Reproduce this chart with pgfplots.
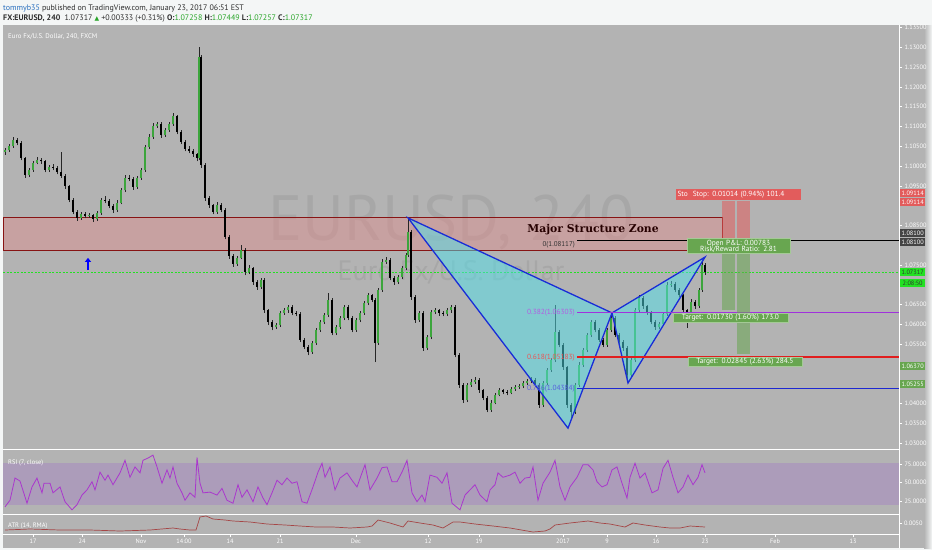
\documentclass[border=0pt]{standalone}
\usepackage{fontspec}
\setmainfont{PT Sans}
\newfontfamily\djv{DejaVu Sans}
\newfontfamily\zonefont{DejaVu Serif}
\usepackage{pgfplots}
\usepackage{pgfplotstable}
\pgfplotsset{compat=1.18}
\usetikzlibrary{arrows.meta}

\definecolor{pagebg}{RGB}{244,246,246}
\definecolor{bgpane}{RGB}{179,179,179}
\definecolor{candlegreen}{RGB}{60,165,60}
\definecolor{zonefill}{RGB}{225,140,140}
\definecolor{zoneline}{RGB}{135,20,20}
\definecolor{patfill}{RGB}{80,225,235}
\definecolor{patline}{RGB}{25,45,215}
\definecolor{fibpurple}{RGB}{160,50,220}
\definecolor{fibred}{RGB}{225,30,30}
\definecolor{fibblue}{RGB}{30,40,210}
\definecolor{rsiline}{RGB}{170,55,205}
\definecolor{rsiband}{RGB}{172,156,186}
\definecolor{atrline}{RGB}{165,70,70}
\definecolor{tagred}{RGB}{226,92,92}
\definecolor{taggreen}{RGB}{104,166,80}
\definecolor{taglime}{RGB}{35,225,35}
\definecolor{tagdark}{RGB}{68,68,68}
\definecolor{hdrblue}{RGB}{40,110,190}
\definecolor{hdrgreen}{RGB}{40,165,40}
\definecolor{hdrtext}{RGB}{45,45,45}
\definecolor{wmark}{RGB}{167,167,167}

\newcommand\tickfont{\fontsize{6.3}{7}\selectfont}
\newcommand\boxfont{\fontsize{7.4}{8}\selectfont}

% 4h candles: x (chart column), open, high, low, close
\pgfplotstableread{
x o h l c
5 1.1036 1.1046 1.1028 1.1040
9 1.1040 1.1056 1.1036 1.1050
13 1.1050 1.1072 1.1046 1.1066
17 1.1066 1.1070 1.1052 1.1058
21 1.1058 1.1062 1.1014 1.1020
25 1.1020 1.1024 1.0970 1.0977
29 1.0977 1.0995 1.0972 1.0990
33 1.0990 1.1013 1.0986 1.1008
37 1.1008 1.1022 1.1004 1.1015
41 1.1015 1.1020 1.1006 1.1012
45 1.1012 1.1016 1.0984 1.0990
49 1.0990 1.1003 1.0985 1.0997
53 1.0997 1.1004 1.0989 1.0995
57 1.0995 1.0999 1.0979 1.0985
61 1.0985 1.1035 1.0970 1.0975
65 1.0975 1.0980 1.0943 1.0949
69 1.0949 1.0953 1.0908 1.0914
73 1.0914 1.0918 1.0878 1.0884
77 1.0884 1.0889 1.0862 1.0869
81 1.0869 1.0885 1.0864 1.0879
85 1.0879 1.0884 1.0868 1.0874
89 1.0874 1.0882 1.0869 1.0876
93 1.0876 1.0880 1.0858 1.0866
97 1.0866 1.0887 1.0861 1.0881
101 1.0881 1.0920 1.0877 1.0914
105 1.0914 1.0925 1.0906 1.0912
109 1.0912 1.0916 1.0893 1.0899
113 1.0899 1.0903 1.0882 1.0889
117 1.0889 1.0913 1.0885 1.0907
121 1.0907 1.0945 1.0903 1.0939
125 1.0939 1.0977 1.0934 1.0970
129 1.0970 1.0978 1.0962 1.0968
133 1.0968 1.0972 1.0940 1.0947
137 1.0947 1.0976 1.0943 1.0970
141 1.0970 1.0996 1.0965 1.0990
145 1.0990 1.1054 1.0986 1.1048
149 1.1048 1.1080 1.1043 1.1073
153 1.1073 1.1108 1.1068 1.1101
157 1.1101 1.1112 1.1096 1.1106
161 1.1106 1.1110 1.1071 1.1078
165 1.1078 1.1097 1.1074 1.1091
169 1.1091 1.1112 1.1087 1.1106
173 1.1106 1.1134 1.1102 1.1126
177 1.1126 1.1130 1.1080 1.1086
181 1.1086 1.1090 1.1055 1.1061
185 1.1061 1.1066 1.1037 1.1043
189 1.1043 1.1050 1.1032 1.1038
193 1.1038 1.1042 1.1024 1.1030
197 1.1030 1.1034 1.1012 1.1020
199 1.1020 1.1300 1.1015 1.1275
201 1.1275 1.1280 1.0995 1.1003
205 1.1003 1.1008 1.0912 1.0919
209 1.0919 1.0925 1.0895 1.0901
213 1.0901 1.0905 1.0878 1.0884
217 1.0884 1.0908 1.0880 1.0901
221 1.0901 1.0906 1.0883 1.0889
225 1.0889 1.0893 1.0815 1.0821
229 1.0821 1.0826 1.0766 1.0773
233 1.0773 1.0778 1.0745 1.0753
237 1.0753 1.0772 1.0748 1.0768
241 1.0768 1.0800 1.0764 1.0788
245 1.0788 1.0792 1.0724 1.0732
249 1.0732 1.0750 1.0727 1.0742
253 1.0742 1.0746 1.0700 1.0707
257 1.0707 1.0712 1.0688 1.0694
261 1.0694 1.0718 1.0690 1.0712
264 1.0712 1.0716 1.0630 1.0636
268 1.0636 1.0640 1.0598 1.0606
272 1.0606 1.0612 1.0585 1.0593
276 1.0593 1.0604 1.0588 1.0598
280 1.0598 1.0635 1.0594 1.0629
284 1.0629 1.0642 1.0624 1.0636
288 1.0636 1.0650 1.0630 1.0644
292 1.0644 1.0648 1.0623 1.0629
296 1.0629 1.0634 1.0620 1.0627
300 1.0627 1.0631 1.0555 1.0561
304 1.0561 1.0566 1.0537 1.0543
308 1.0543 1.0548 1.0522 1.0530
312 1.0530 1.0559 1.0526 1.0553
316 1.0553 1.0592 1.0548 1.0586
320 1.0586 1.0612 1.0581 1.0606
324 1.0606 1.0630 1.0601 1.0624
328 1.0624 1.0680 1.0619 1.0662
332 1.0662 1.0666 1.0572 1.0578
336 1.0578 1.0599 1.0573 1.0593
340 1.0593 1.0622 1.0588 1.0616
344 1.0616 1.0650 1.0611 1.0644
348 1.0644 1.0648 1.0610 1.0616
352 1.0616 1.0620 1.0580 1.0586
356 1.0586 1.0617 1.0581 1.0611
360 1.0611 1.0635 1.0606 1.0629
364 1.0629 1.0660 1.0624 1.0654
368 1.0654 1.0680 1.0649 1.0674
372 1.0674 1.0678 1.0656 1.0662
375 1.0662 1.0666 1.0505 1.0553
378 1.0553 1.0693 1.0548 1.0687
382 1.0687 1.0764 1.0682 1.0758
386 1.0758 1.0770 1.0752 1.0763
390 1.0763 1.0767 1.0711 1.0717
394 1.0717 1.0722 1.0700 1.0707
398 1.0707 1.0726 1.0702 1.0720
402 1.0720 1.0748 1.0715 1.0742
406 1.0742 1.0781 1.0737 1.0775
408 1.0775 1.0869 1.0770 1.0833
411 1.0833 1.0838 1.0662 1.0669
415 1.0669 1.0674 1.0604 1.0611
419 1.0611 1.0635 1.0606 1.0629
423 1.0629 1.0633 1.0534 1.0540
427 1.0540 1.0574 1.0535 1.0568
431 1.0568 1.0637 1.0563 1.0631
435 1.0631 1.0642 1.0626 1.0636
439 1.0636 1.0640 1.0622 1.0629
443 1.0629 1.0634 1.0620 1.0626
447 1.0626 1.0642 1.0621 1.0636
451 1.0636 1.0650 1.0630 1.0644
455 1.0644 1.0648 1.0517 1.0523
459 1.0523 1.0528 1.0440 1.0447
463 1.0447 1.0452 1.0402 1.0409
467 1.0409 1.0453 1.0404 1.0447
471 1.0447 1.0462 1.0442 1.0455
475 1.0455 1.0466 1.0450 1.0460
479 1.0460 1.0464 1.0428 1.0434
483 1.0434 1.0438 1.0408 1.0414
487 1.0414 1.0418 1.0378 1.0384
491 1.0384 1.0408 1.0380 1.0402
495 1.0402 1.0428 1.0398 1.0422
499 1.0422 1.0440 1.0418 1.0434
503 1.0434 1.0438 1.0423 1.0429
507 1.0429 1.0435 1.0421 1.0427
511 1.0427 1.0443 1.0423 1.0437
515 1.0437 1.0448 1.0432 1.0442
519 1.0442 1.0450 1.0437 1.0444
523 1.0444 1.0458 1.0439 1.0452
527 1.0452 1.0463 1.0447 1.0457
531 1.0457 1.0466 1.0452 1.0460
535 1.0460 1.0464 1.0441 1.0447
539 1.0447 1.0451 1.0390 1.0397
543 1.0397 1.0458 1.0392 1.0452
547 1.0452 1.0491 1.0447 1.0485
551 1.0485 1.0516 1.0480 1.0510
555 1.0510 1.0649 1.0505 1.0581
559 1.0581 1.0585 1.0542 1.0548
563 1.0548 1.0552 1.0486 1.0492
567 1.0492 1.0496 1.0390 1.0397
571 1.0397 1.0402 1.0359 1.0379
575 1.0379 1.0453 1.0374 1.0447
579 1.0447 1.0504 1.0442 1.0498
583 1.0498 1.0541 1.0493 1.0535
587 1.0535 1.0579 1.0530 1.0573
591 1.0573 1.0612 1.0568 1.0606
595 1.0606 1.0610 1.0580 1.0586
599 1.0586 1.0590 1.0555 1.0561
603 1.0561 1.0565 1.0542 1.0548
607 1.0548 1.0592 1.0543 1.0586
611 1.0586 1.0630 1.0581 1.0616
615 1.0616 1.0620 1.0567 1.0573
619 1.0573 1.0578 1.0550 1.0556
623 1.0556 1.0560 1.0534 1.0540
627 1.0540 1.0545 1.0455 1.0472
631 1.0472 1.0516 1.0467 1.0510
635 1.0510 1.0642 1.0505 1.0636
639 1.0636 1.0673 1.0631 1.0667
643 1.0667 1.0671 1.0640 1.0646
647 1.0646 1.0650 1.0625 1.0631
651 1.0631 1.0635 1.0600 1.0606
655 1.0606 1.0610 1.0587 1.0593
659 1.0593 1.0607 1.0588 1.0601
663 1.0601 1.0632 1.0596 1.0626
667 1.0626 1.0706 1.0621 1.0700
671 1.0700 1.0710 1.0695 1.0702
675 1.0702 1.0706 1.0681 1.0687
679 1.0687 1.0691 1.0668 1.0674
683 1.0674 1.0678 1.0630 1.0636
687 1.0636 1.0640 1.0591 1.0624
691 1.0624 1.0663 1.0619 1.0657
695 1.0657 1.0661 1.0640 1.0646
699 1.0646 1.0693 1.0641 1.0687
702 1.0687 1.0757 1.0682 1.0750
705 1.0750 1.0754 1.0726 1.0732
}\candles

\begin{document}
\begin{tikzpicture}
% page and pane backgrounds
\fill[pagebg] (0,0) rectangle (932pt,-550pt);
\fill[bgpane] (3pt,-25pt) rectangle (924pt,-548pt);
\shade[left color=bgpane, right color=pagebg] (924pt,-25pt) rectangle (932pt,-548pt);

%----------------------------------------------------------- price pane
\begin{axis}[
	at={(3pt,-25pt)}, anchor=north west,
	scale only axis, width=896pt, height=424pt,
	xmin=3, xmax=899, ymin=1.028535, ymax=1.135606,
	clip=false,
	axis line style={draw=none},
	xtick=\empty,
	% levels hidden behind the price tags are left out
	ytick={1.03,1.035,1.04,1.055,1.06,1.065,1.075,1.085,1.095,1.1,1.105,1.11,1.115,1.12,1.125,1.13,1.135},
	ytick pos=right, yticklabel pos=right,
	scaled y ticks=false,
	tick align=outside, major tick length=3pt,
	tick style={white, line width=0.5pt},
	yticklabel style={text=white, font=\tickfont, xshift=-1pt,
		/pgf/number format/.cd, fixed, fixed zerofill, precision=5, assume math mode=true},
	]
	% watermark
	\node[text=wmark, font=\fontsize{64}{64}\selectfont, anchor=base] at (axis cs:451,1.0813) {EURUSD, 240};
	\node[text=wmark, font=\fontsize{28}{28}\selectfont, anchor=base] at (axis cs:451,1.0712) {Euro Fx/U.S. Dollar};

	% major structure zone
	\addplot[fill=zonefill, fill opacity=0.45, draw=zoneline, line width=0.9pt]
		coordinates {(3,1.0788) (3,1.0869) (722,1.0869) (722,1.0788)} -- cycle;

	% current price
	\addplot[taglime, line width=0.8pt, dash pattern=on 2pt off 1.5pt]
		coordinates {(3,1.07317) (899,1.07317)};

	% wicks
	\addplot[draw=none, forget plot, error bars/.cd, y dir=plus, y explicit,
		error mark=none, error bar style={draw=black!85, line width=0.6pt}]
		table[x=x, y=l, y error expr=\thisrow{h}-\thisrow{l}] {\candles};
	% down bodies
	\addplot[draw=none, forget plot, error bars/.cd, y dir=plus, y explicit,
		error mark=none, error bar style={draw=black, line width=2.6pt}]
		table[x=x, y=c, y error expr={max(\thisrow{o}-\thisrow{c},0)}] {\candles};
	% up bodies
	\addplot[draw=none, forget plot, error bars/.cd, y dir=plus, y explicit,
		error mark=none, error bar style={draw=black!80, line width=2.8pt}]
		table[x=x, y=o, y error expr={max(\thisrow{c}-\thisrow{o},0)}] {\candles};
	\addplot[draw=none, forget plot, error bars/.cd, y dir=plus, y explicit,
		error mark=none, error bar style={draw=candlegreen, line width=1.7pt}]
		table[x=x, y=o, y error expr={max(\thisrow{c}-\thisrow{o},0)}] {\candles};

	% harmonic pattern X-A-B and B-C-D
	\addplot[fill=patfill, fill opacity=0.5, draw=patline, line width=1.3pt]
		coordinates {(408,1.0869) (568,1.0338) (612,1.0629)} -- cycle;
	\addplot[fill=patfill, fill opacity=0.5, draw=patline, line width=1.3pt]
		coordinates {(612,1.0629) (628,1.0452) (705,1.0770)} -- cycle;

	% fibonacci levels
	\addplot[black, line width=1.6pt] coordinates {(577,1.08117) (899,1.08117)};
	\addplot[fibpurple, line width=1.8pt] coordinates {(577,1.06303) (899,1.06303)};
	\addplot[fibred, line width=1.8pt] coordinates {(577,1.05183) (899,1.05183)};
	\addplot[fibblue, line width=1.8pt] coordinates {(577,1.04384) (899,1.04384)};

	% long position tools
	\addplot[fill=tagred, fill opacity=0.55, draw=none]
		coordinates {(722,1.0810) (722,1.09114) (735,1.09114) (735,1.0810)} -- cycle;
	\addplot[fill=tagred, fill opacity=0.55, draw=none]
		coordinates {(737,1.0810) (737,1.09114) (750,1.09114) (750,1.0810)} -- cycle;
	\addplot[fill=taggreen, fill opacity=0.55, draw=none]
		coordinates {(722,1.0810) (722,1.0637) (735,1.0637) (735,1.0810)} -- cycle;
	\addplot[fill=taggreen, fill opacity=0.55, draw=none]
		coordinates {(737,1.0810) (737,1.05255) (750,1.05255) (750,1.0810)} -- cycle;

	% arrow mark under the zone
	\addplot[blue, line width=1.5pt, -{Triangle[width=6pt,length=4pt]}]
		coordinates {(88,1.0737) (88,1.0768)};
\end{axis}

%----------------------------------------------------------- RSI pane
\begin{axis}[
	at={(3pt,-450pt)}, anchor=north west,
	scale only axis, width=896pt, height=64pt,
	xmin=3, xmax=899, ymin=7.4, ymax=93.9,
	clip=false,
	axis line style={draw=none},
	xtick=\empty,
	ytick={25,50,75},
	ytick pos=right, yticklabel pos=right,
	tick align=outside, major tick length=3pt,
	tick style={white, line width=0.5pt},
	yticklabel style={text=white, font=\tickfont, xshift=-1pt,
		/pgf/number format/.cd, fixed, fixed zerofill, precision=4, assume math mode=true},
	]
	\addplot[fill=rsiband, draw=none] coordinates {(3,20) (3,77) (899,77) (899,20)} -- cycle;
	\addplot[rsiline, line width=0.8pt] coordinates {
		(5,17) (10,26) (15,56) (20,52) (27,22) (32,44) (37,56) (42,36) (44,49) (50,49)
		(53,36) (60,44) (65,24) (72,13) (77,20) (82,33) (87,40) (92,51) (95,40) (100,64)
		(105,53) (108,60) (113,47) (120,63) (125,80) (130,57) (135,71) (140,63) (143,80) (148,83)
		(153,87) (157,71) (162,49) (167,67) (170,56) (173,71) (177,49) (182,36) (185,26) (190,36)
		(195,30) (197,84) (200,49) (203,36) (210,37) (217,33) (222,42) (227,26) (233,22) (238,47)
		(242,30) (247,40) (253,24) (258,44) (263,29) (267,20) (272,36) (277,53) (282,47) (287,56)
		(292,49) (297,51) (302,24) (307,22) (313,44) (318,64) (322,76) (325,57) (330,71) (335,40)
		(340,56) (347,63) (352,53) (357,44) (362,63) (365,74) (370,40) (377,56) (382,70) (387,71)
		(392,51) (397,51) (402,64) (407,80) (412,36) (417,24) (422,33) (425,24) (430,60) (437,57)
		(442,49) (447,63) (452,22) (460,13) (465,33) (470,40) (475,47) (480,33) (487,24) (490,40)
		(495,47) (498,63) (503,57) (510,60) (515,64) (520,49) (525,56) (530,57) (533,71) (538,26)
		(543,49) (550,64) (555,80) (560,44) (565,26) (570,44) (577,57) (583,74) (588,74) (593,67)
		(597,51) (602,44) (607,47) (612,67) (617,71) (622,49) (627,29) (630,57) (635,76) (640,56)
		(645,63) (652,36) (658,40) (663,69) (668,80) (673,57) (678,36) (683,44) (688,60) (693,47)
		(698,57) (702,74) (705,63)
	};
\end{axis}

%----------------------------------------------------------- ATR pane + time axis
\begin{axis}[
	at={(3pt,-514pt)}, anchor=north west,
	scale only axis, width=896pt, height=20pt,
	xmin=3, xmax=899, ymin=0.0039, ymax=0.0059,
	clip=false,
	axis line style={draw=none},
	xtick={33,82,141,184,230,280,356,428,479,563,607,656,705,775,853},
	xticklabels={17,24,Nov,14:00,14,21,Dec,12,19,2017,9,16,23,Feb,13},
	xtick pos=bottom, xticklabel pos=bottom,
	ytick={0.005},
	ytick pos=right, yticklabel pos=right,
	scaled y ticks=false,
	tick align=outside, major tick length=2.5pt,
	tick style={white, line width=0.5pt},
	xticklabel style={text=white, font=\tickfont, yshift=1pt},
	yticklabel style={text=white, font=\tickfont, xshift=-1pt,
		/pgf/number format/.cd, fixed, fixed zerofill, precision=4, assume math mode=true},
	]
	\addplot[atrline, line width=0.7pt] coordinates {
		(5,0.0043) (30,0.0044) (60,0.0043) (90,0.0043) (120,0.0042) (150,0.0043) (173,0.0045)
		(180,0.0044) (190,0.0043) (196,0.0043) (200,0.0056) (206,0.0057) (213,0.0054) (225,0.0053)
		(233,0.0052) (250,0.0051) (267,0.0049) (285,0.0048) (300,0.0047) (316,0.0046) (333,0.0046)
		(350,0.0045) (367,0.0046) (372,0.0047) (378,0.0053) (390,0.0050) (403,0.0046) (408,0.0052)
		(420,0.0050) (433,0.0048) (443,0.0045) (453,0.0051) (460,0.0051) (475,0.0049) (493,0.0047)
		(510,0.0045) (533,0.0041) (545,0.0042) (550,0.0044) (555,0.0048) (570,0.0050) (588,0.0052)
		(600,0.0050) (610,0.0049) (625,0.0046) (633,0.0050) (645,0.0048) (660,0.0046) (670,0.0045)
		(680,0.0045) (690,0.0047) (705,0.0046)
	};
\end{axis}

%----------------------------------------------------------- frame lines, texts, tags
\begin{scope}[x=1pt, y=-1pt]
	\draw[white, line width=0.8pt] (3,449.5) -- (899,449.5);
	\draw[white, line width=0.8pt] (3,514) -- (899,514);
	\draw[white, line width=0.8pt] (3,534) -- (899,534);
	\draw[white, line width=0.8pt] (899,25) -- (899,548);

	% header
	\node[anchor=base west, inner sep=0pt, font=\fontsize{8}{9}\selectfont, text=hdrtext] at (3,10)
		{{\color{hdrblue}tommyb35} published on TradingView.com, January 23, 2017 06:51 EST};
	\node[anchor=base west, inner sep=0pt, font=\fontsize{8}{9}\selectfont, text=hdrtext] at (3,20)
		{\textbf{FX:EURUSD, 240}\ \ 1.07317 {\color{hdrgreen}\djv\fontsize{6}{7}\selectfont▲} +0.00333 (+0.31\%)
		\textbf{O:}{\color{hdrgreen}1.07258} \textbf{H:}{\color{hdrgreen}1.07449}
		\textbf{L:}{\color{hdrgreen}1.07257} \textbf{C:}{\color{hdrgreen}1.07317}};

	% pane captions
	\node[anchor=base west, inner sep=0pt, text=white, font=\fontsize{6.8}{8}\selectfont] at (8,38) {Euro Fx/U.S. Dollar, 240, FXCM};
	\node[anchor=base west, inner sep=0pt, text=white, font=\fontsize{6.5}{8}\selectfont] at (8,464) {RSI (7, close)};
	\node[anchor=base west, inner sep=0pt, text=white, font=\fontsize{6.5}{8}\selectfont] at (8,527) {ATR (14, RMA)};

	% zone and fib labels
	\node[anchor=base, inner sep=0pt, text=black!85!red, font=\zonefont\bfseries\fontsize{10.8}{11}\selectfont] at (593,232) {Major Structure Zone};
	\node[anchor=east, inner sep=0pt, text=black!80, font=\fontsize{7}{8}\selectfont] at (575,244.5) {0(1.08117)};
	\node[anchor=east, inner sep=0pt, text=fibpurple!80!white, font=\boxfont] at (575,313) {0.382(1.06303)};
	\node[anchor=east, inner sep=0pt, text=fibred!75!white, font=\boxfont] at (575,358) {0.618(1.05183)};
	\node[anchor=east, inner sep=0pt, text=fibblue!75!white, font=\boxfont] at (575,389) {0.786(1.04384)};

	% position tool labels
	\node[fill=tagred, text=white, font=\boxfont, inner sep=1.5pt, minimum height=11pt, text width=122pt] at (738.5,194.5)
		{Sto\ \ Stop: 0.01014 (0.94\%) 101.4};
	\node[fill=taggreen, draw=taggreen!60!white, text=white, font=\boxfont, inner sep=1.2pt, align=center, text width=100pt] at (738.5,246)
		{Open P\&L: 0.00783\\[-2pt]Risk/Reward Ratio: 2.81};
	\node[fill=taggreen, draw=taggreen!60!white, text=white, font=\boxfont, inner sep=1.2pt, text width=112pt, align=center] at (730.5,318)
		{Target: 0.01730 (1.60\%) 173.0};
	\node[fill=taggreen, draw=taggreen!60!white, text=white, font=\boxfont, inner sep=1.2pt, text width=112pt, align=center] at (745,362)
		{Target: 0.02845 (2.63\%) 284.5};

	% price tags on the scale
	\tikzset{tag/.style={anchor=west, inner sep=0pt, minimum width=25pt, minimum height=8.5pt, font=\tickfont}}
	\node[tag, fill=tagred, text=white] at (900,193) {1.09114};
	\node[tag, fill=tagred, text=white] at (900,202) {1.09114};
	\node[tag, fill=tagdark, text=white] at (900,233) {1.08100};
	\node[tag, fill=tagdark, text=white] at (900,242) {1.08100};
	\node[tag, fill=taglime, text=black!80] at (900,272) {1.07317};
	\node[tag, fill=taglime, text=black!80] at (900,283) {2:08:50};
	\node[tag, fill=taggreen, text=white] at (900,366) {1.06370};
	\node[tag, fill=taggreen, text=white] at (900,384) {1.05255};
\end{scope}
\end{tikzpicture}
\end{document}
